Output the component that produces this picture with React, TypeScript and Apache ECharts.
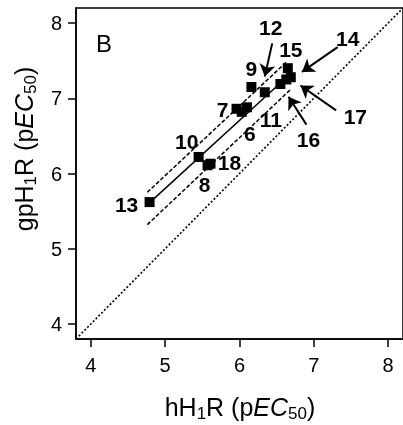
import React, { useEffect, useRef } from "react";
import * as echarts from "echarts";

// Compound numbers and their potencies (pEC50)
const compounds = ["6", "7", "8", "9", "10", "11", "12", "13", "14", "15", "16", "17", "18"];
const hH1R = [6.03, 5.96, 5.57, 6.16, 5.45, 6.1, 6.34, 4.79, 6.69, 6.65, 6.55, 6.63, 5.61];
const gpH1R = [6.82, 6.86, 6.11, 7.15, 6.22, 6.88, 7.08, 5.62, 7.28, 7.4, 7.19, 7.25, 6.13];

// Regression line and its dashed band (end points, pEC50)
const fitX = [4.81, 6.59];
const fitY = [5.63, 7.24];
const upperX = [4.76, 6.64];
const upperY = [5.75, 7.49];
const lowerX = [4.76, 6.68];
const lowerY = [5.32, 7.11];
// line of identity
const identityX = [3.8, 8.2];
const identityY = [3.8, 8.2];

// Arrow annotations (data coordinates): start -> tip
const arrowFromX = [6.44, 7.32, 7.3, 6.9];
const arrowFromY = [7.73, 7.68, 6.84, 6.65];
const arrowToX = [6.34, 6.84, 6.82, 6.66];
const arrowToY = [7.29, 7.35, 7.17, 7.02];

const axisTicks = [4, 5, 6, 7, 8];

// label offsets in pixels relative to each point (layout only)
const labelOffsets: Record<string, [number, number]> = {
  "6": [8, 22],
  "7": [-14, 1],
  "8": [-3, 19],
  "9": [0, -18],
  "10": [-12, -15],
  "11": [24, 12],
  "12": [6, -65],
  "13": [-23, 2],
  "14": [57, -39],
  "15": [3, -19],
  "16": [28, 56],
  "17": [69, 37],
  "18": [19, -1],
};

const FONT = "'Liberation Sans', Arial, Helvetica, sans-serif";

export default function App() {
  const ref = useRef<HTMLDivElement>(null);
  useEffect(() => {
    if (!ref.current) return;
    const chart = echarts.init(ref.current, undefined, { renderer: "svg" });

    const points = compounds.map((c, i) => ({
      name: c,
      value: [hH1R[i], gpH1R[i]],
      label: { offset: labelOffsets[c] },
    }));

    const arrows = arrowFromX.map((_, i) => [
      { coord: [arrowFromX[i], arrowFromY[i]] },
      { coord: [arrowToX[i], arrowToY[i]] },
    ]);

    const rich = {
      n: { fontSize: 25, lineHeight: 30, fontFamily: FONT, color: "#000" },
      i: { fontSize: 25, lineHeight: 30, fontFamily: FONT, fontStyle: "italic", color: "#000" },
      s1: { fontSize: 17, lineHeight: 24, verticalAlign: "bottom", fontFamily: FONT, color: "#000" },
      s: { fontSize: 17, lineHeight: 16, verticalAlign: "bottom", fontFamily: FONT, color: "#000" },
    };

    const axisCommon = {
      type: "value",
      min: 3.8,
      max: 8.2,
      splitLine: { show: false },
      axisLine: { show: true, lineStyle: { color: "#000", width: 1.5 } },
      axisTick: { show: true, length: 8, customValues: axisTicks, lineStyle: { color: "#000", width: 1.5 } },
      axisLabel: { customValues: axisTicks, fontSize: 20, color: "#000", fontFamily: FONT },
    };

    chart.setOption({
      animation: false,
      grid: {
        left: 76,
        top: 8,
        width: 330,
        height: 331,
        show: true,
        borderColor: "#000",
        borderWidth: 1.5,
      },
      xAxis: { ...axisCommon, axisLabel: { ...axisCommon.axisLabel, margin: 16 } },
      yAxis: { ...axisCommon, axisLabel: { ...axisCommon.axisLabel, margin: 14 } },
      graphic: [
        {
          type: "text",
          x: 104,
          y: 43,
          style: { text: "B", fontSize: 24, fontFamily: FONT, fill: "#000", align: "center", verticalAlign: "middle" },
        },
        {
          type: "text",
          x: 240,
          y: 407,
          style: {
            text: "{n|hH}{s1|1}{n|R (p}{i|EC}{s|50}{n|)}",
            rich,
            align: "center",
            verticalAlign: "middle",
          },
        },
        {
          type: "text",
          x: 24,
          y: 149,
          rotation: Math.PI / 2,
          style: {
            text: "{n|gpH}{s1|1}{n|R (p}{i|EC}{s|50}{n|)}",
            rich,
            align: "center",
            verticalAlign: "middle",
          },
        },
      ],
      series: [
        {
          type: "line",
          data: identityX.map((x, i) => [x, identityY[i]]),
          symbol: "none",
          lineStyle: { color: "#000", width: 1.6, type: [2, 2] },
          silent: true,
          z: 1,
        },
        {
          type: "line",
          data: upperX.map((x, i) => [x, upperY[i]]),
          symbol: "none",
          lineStyle: { color: "#000", width: 1.5, type: [4, 2] },
          silent: true,
          z: 1,
        },
        {
          type: "line",
          data: lowerX.map((x, i) => [x, lowerY[i]]),
          symbol: "none",
          lineStyle: { color: "#000", width: 1.5, type: [4, 2] },
          silent: true,
          z: 1,
        },
        {
          type: "line",
          data: fitX.map((x, i) => [x, fitY[i]]),
          symbol: "none",
          lineStyle: { color: "#000", width: 1.5, type: "solid" },
          silent: true,
          z: 1,
        },
        {
          type: "scatter",
          data: points,
          symbol: "rect",
          symbolSize: 10,
          itemStyle: { color: "#000", opacity: 1 },
          z: 3,
          label: {
            show: true,
            position: "inside",
            formatter: (p: any) => p.name,
            fontSize: 21,
            fontWeight: "bold",
            fontFamily: FONT,
            color: "#000",
            textBorderWidth: 0,
          },
          markLine: {
            silent: true,
            symbol: ["none", "arrow"],
            symbolSize: 12,
            label: { show: false },
            lineStyle: { color: "#000", width: 2, type: "solid", opacity: 1 },
            data: arrows,
          },
        },
      ],
    });
    return () => chart.dispose();
  }, []);
  return <div ref={ref} style={{ position: "fixed", left: 0, top: 0, width: 403, height: 425 }} />;
}
